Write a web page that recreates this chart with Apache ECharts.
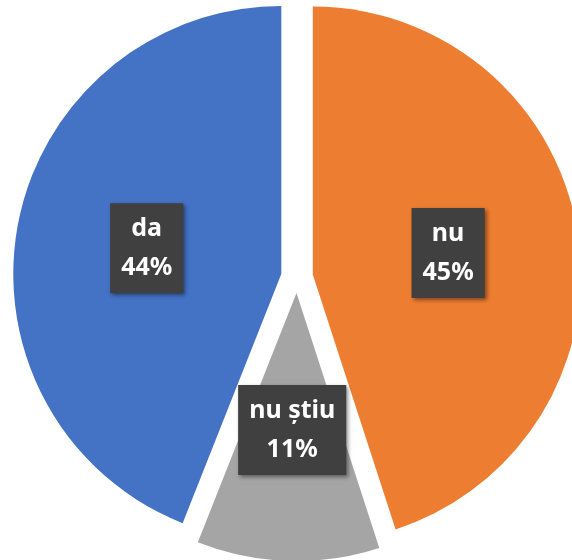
<!DOCTYPE html>
<html>
<head>
<meta charset="utf-8">
<script src="https://cdn.jsdelivr.net/npm/echarts@6/dist/echarts.min.js"></script>
<style>
html,body{margin:0;padding:0;background:#fff;}
#chart{width:572px;height:560px;}
</style>
</head>
<body>
<div id="chart"></div>
<script>
var categories = ['nu', 'nu știu', 'da'];
var values = [45, 11, 44];
var colors = ['#ED7D31', '#A5A5A5', '#4472C4'];

var chart = echarts.init(document.getElementById('chart'), null, {renderer: 'canvas'});
var data = categories.map(function (c, i) {
  return { name: c, value: values[i], selected: true, itemStyle: { color: colors[i] } };
});
chart.setOption({
  animation: false,
  series: [{
    type: 'pie',
    center: [297, 277],
    radius: [0, 268],
    startAngle: 90,
    clockwise: true,
    selectedMode: 'multiple',
    selectedOffset: 16,
    data: data,
    emphasis: { disabled: true },
    itemStyle: { borderWidth: 0 },
    label: {
      show: true,
      position: 'inside',
      formatter: '{b}\n{c}%',
      color: '#ffffff',
      fontFamily: 'Noto Sans',
      fontWeight: 'bold',
      fontSize: 25,
      lineHeight: 39,
      backgroundColor: '#404040',
      padding: [6, 11],
      shadowColor: 'rgba(0,0,0,0.45)',
      shadowBlur: 4,
      shadowOffsetX: 2,
      shadowOffsetY: 2
    },
    labelLine: { show: false }
  }]
});
</script>
</body>
</html>
